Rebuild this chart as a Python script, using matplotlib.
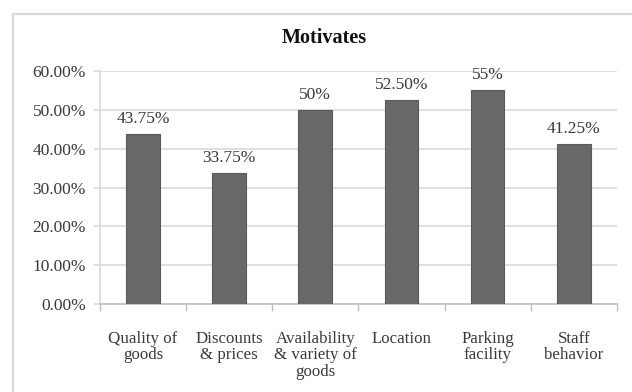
import numpy as np
import matplotlib.pyplot as plt
from matplotlib.patches import Rectangle
from matplotlib.ticker import FixedLocator, FuncFormatter

categories = ["Quality of\ngoods", "Discounts\n& prices", "Availability\n& variety of\ngoods",
              "Location", "Parking\nfacility", "Staff\nbehavior"]
values = [43.75, 33.75, 50.0, 52.5, 55.0, 41.25]
value_labels = ["43.75%", "33.75%", "50%", "52.50%", "55%", "41.25%"]
yticks = [0, 10, 20, 30, 40, 50, 60]

plt.rcParams['font.family'] = ['Liberation Serif', 'DejaVu Serif']

fig = plt.figure(figsize=(6.32, 3.92), dpi=100)
ax = fig.add_axes([0.158, 0.224, 0.818, 0.595])

# chart frame, runs off the right and bottom of the image
fig.add_artist(Rectangle((13 / 632, -0.2), 1.2, 1 - 14 / 392 + 0.2,
                         transform=fig.transFigure, fill=False,
                         edgecolor='#d9d9d9', linewidth=1.6))

x = np.arange(len(categories))
bars = ax.bar(x, values, width=0.39, color='#686868', edgecolor='#5a5a5a',
              linewidth=0.8, zorder=3)

for b, lab in zip(bars, value_labels):
    ax.annotate(lab, (b.get_x() + b.get_width() / 2, b.get_height()),
                xytext=(0, 5), textcoords='offset points',
                ha='center', va='bottom', fontsize=12.5, color='#3a3a3a')

ax.set_xlim(-0.5, len(categories) - 0.5)
ax.set_ylim(0, 60)
ax.set_yticks(yticks)
ax.yaxis.set_major_formatter(FuncFormatter(lambda v, p: f"{v:.2f}%"))
ax.grid(axis='y', color='#d9d9d9', linewidth=1.2, zorder=0)

ax.set_xticks(x)
ax.set_xticklabels(categories, fontsize=12.2, color='#3a3a3a', linespacing=1.05)
ax.xaxis.set_minor_locator(FixedLocator(np.arange(-0.5, len(categories), 1.0)))
ax.tick_params(axis='x', which='major', length=0, pad=19)
ax.tick_params(axis='x', which='minor', length=5, color='#bfbfbf', width=1)
ax.tick_params(axis='y', length=4, color='#d9d9d9', width=1.2, pad=6,
               labelsize=12.5, labelcolor='#3a3a3a')

for side in ['top', 'right']:
    ax.spines[side].set_visible(False)
ax.spines['left'].set_color('#d9d9d9')
ax.spines['left'].set_linewidth(1.2)
ax.spines['bottom'].set_color('#bfbfbf')
ax.spines['bottom'].set_linewidth(1.2)

fig.text(0.513, 0.903, "Motivates", ha='center', va='center',
         fontsize=14.5, fontweight='bold', color='#111111')

fig.savefig("out.png", dpi=100)
